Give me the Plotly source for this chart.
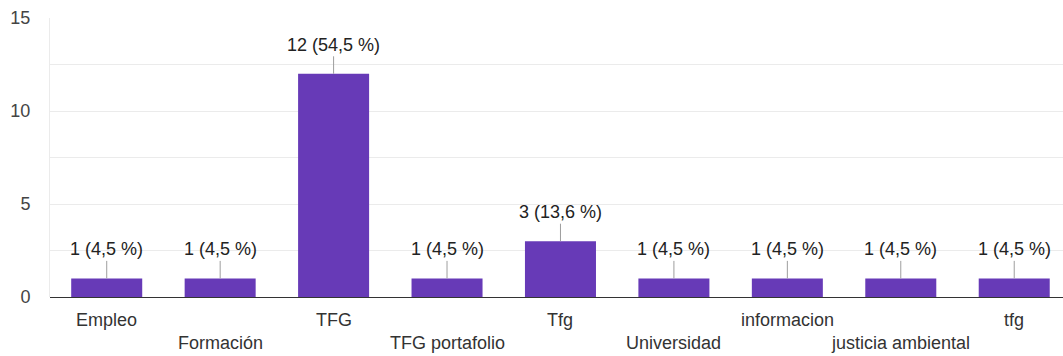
import plotly.graph_objects as go

categories = ["Empleo", "Formación", "TFG", "TFG portafolio", "Tfg",
              "Universidad", "informacion", "justicia ambiental", "tfg"]
counts = [1, 1, 12, 1, 3, 1, 1, 1, 1]
value_labels = ["1 (4,5 %)", "1 (4,5 %)", "12 (54,5 %)", "1 (4,5 %)", "3 (13,6 %)",
                "1 (4,5 %)", "1 (4,5 %)", "1 (4,5 %)", "1 (4,5 %)"]
y_ticks = [0, 5, 10, 15]

FONT = "Arial, 'Liberation Sans', sans-serif"
BAR = "#673AB7"

xpos = list(range(len(categories)))

fig = go.Figure(go.Bar(
    x=xpos, y=counts, marker=dict(color=BAR, line=dict(width=0)),
    width=0.626, hoverinfo="skip",
))

# value labels with a short leader line down to the bar top
for x, y, t in zip(xpos, counts, value_labels):
    fig.add_annotation(
        x=x, y=y, text=t, showarrow=True, arrowhead=0, arrowwidth=1,
        arrowcolor="#9e9e9e", ax=0, ay=-29, standoff=0,
        font=dict(family=FONT, size=18, color="#222222"),
    )

# category labels, staggered on two rows
for i, (x, c) in enumerate(zip(xpos, categories)):
    fig.add_annotation(
        x=x, y=0, xref="x", yref="paper", text=c, showarrow=False,
        yanchor="middle", xanchor="center", yshift=-23 if i % 2 == 0 else -46,
        font=dict(family=FONT, size=18, color="#333333"),
    )

fig.update_layout(
    width=1063, height=356,
    margin=dict(l=50, r=0, t=18, b=59),
    paper_bgcolor="white", plot_bgcolor="white",
    showlegend=False,
    font=dict(family=FONT, size=18, color="#333333"),
)
fig.update_xaxes(
    range=[-0.5, 8.43],
    tickvals=xpos, showticklabels=False, automargin=False,
    showgrid=False, ticks="", showline=False, zeroline=False,
)
fig.update_yaxes(
    range=[0, 15], tickvals=y_ticks, automargin=False,
    tickfont=dict(family=FONT, size=18, color="#444444"),
    showgrid=True, gridcolor="#ebebeb", gridwidth=1,
    minor=dict(dtick=2.5, showgrid=True, gridcolor="#ebebeb"),
    zeroline=True, zerolinecolor="#333333", zerolinewidth=1,
    showline=True, linecolor="#ebebeb", linewidth=1,
    ticks="", ticklabelstandoff=15,
)

fig.write_html("out.html")
